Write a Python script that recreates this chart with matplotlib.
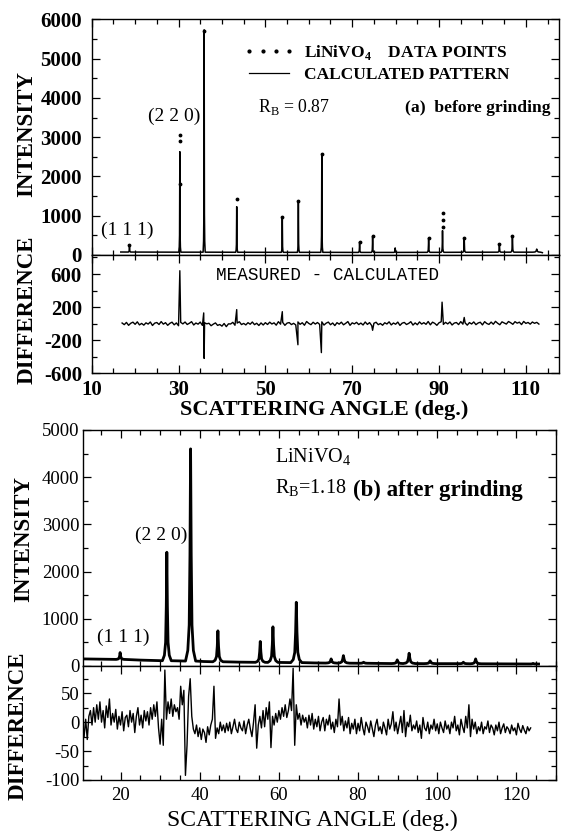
"""LiNiVO4 powder diffraction: Rietveld fits before and after grinding."""

import numpy as np
import matplotlib
matplotlib.use("Agg")
import matplotlib.pyplot as plt
from matplotlib.lines import Line2D
from matplotlib.ticker import MultipleLocator

plt.rcParams["font.family"] = ["Liberation Serif", "DejaVu Serif"]
plt.rcParams["mathtext.fontset"] = "custom"
plt.rcParams["mathtext.rm"] = "Liberation Serif"
plt.rcParams["mathtext.bf"] = "Liberation Serif:bold"
plt.rcParams["axes.unicode_minus"] = False

W, H = 562, 836

# ===================================================
# Data
# ===================================================
# line shape of one reflection: offset in half-widths, fraction of peak height
profile_offset = [-4, -2.2, -1.1, -0.5, 0, 0.5, 1.1, 2.2, 4]
profile_frac = [0, 0.05, 0.17, 0.5, 1, 0.5, 0.17, 0.05, 0]

# (a) before grinding - calculated pattern
peak_a_angle = [18.7, 30.3, 35.9, 43.4, 53.9, 57.6, 63.0, 71.7, 74.7, 79.9, 87.6, 90.8, 95.8, 103.9, 106.9, 112.5]
peak_a_top = [250, 2630, 5730, 1230, 940, 1360, 2570, 330, 470, 180, 430, 620, 430, 270, 470, 150]
peak_a_base = [75, 72, 72, 70, 68, 68, 68, 66, 66, 66, 68, 68, 70, 72, 72, 72]
peak_a_width = [0.07, 0.06, 0.06, 0.06, 0.06, 0.06, 0.06, 0.07, 0.07, 0.08, 0.08, 0.08, 0.08, 0.09, 0.09, 0.22]
bg_a_angle = [16.7, 25.0, 40.0, 50.0, 67.0, 83.0, 99.0, 110.0, 113.8]
bg_a_level = [76, 72, 70, 68, 66, 67, 70, 72, 60]

# (a) observed data points that stand out from the calculated line
data_a_angle = [18.7, 30.3, 30.3, 30.3, 35.9, 43.4, 53.9, 57.6, 63.0, 71.7, 74.7, 87.6, 90.8, 90.8, 90.8, 95.8, 103.9, 106.9]
data_a_int = [260, 3050, 2900, 1800, 5700, 1420, 975, 1380, 2580, 340, 480, 440, 1070, 880, 720, 440, 280, 480]

# (a) measured - calculated
diff_a_start, diff_a_step = 17.0, 0.5
diff_a_noise = [
    8, -12, 15, -20, 5, 18, -8, 22, -15, 3,
    -18, 10, -5, 20, -22, 6, 14, -10, 25, -6,
    12, -20, 4, 18, -14, 9, -25, 16, -3, 20,
    -10, 5, 24, -16, 8, -6, 19, -21, 11, -2,
    5, -25, -6, 9, -21, -10, -30, 2, -36, -2,
    -4, 16, -19, 7, 23, -11, 3, -15, 12, -7,
    20, -12, 5, -22, 9, -16, 12, -10, 18, -4,
    10, -18, 24, -6, 15, -20, 7, 13, -11, 4,
    -15, 21, -8, 11, -19, 26, 3, -12, 17, -5,
    14, -9, 22, -17, 6, 19, -13, 8, -23, 12,
    -6, 18, -14, 4, 25, -20, 10, -3, 16, -11,
    7, -16, 20, -9, 13, -24, 5, 17, -12, 2,
    -19, 11, -4, 22, -15, 8, -7, 19, -21, 6,
    15, -10, 3, 24, -17, 9, -13, 21, -5, 12,
    -8, 26, -14, 18, 4, -20, 11, 23, -9, 16,
    -3, 20, -16, 7, 14, -11, 25, -6, 10, -18,
    13, -4, 21, -12, 8, 17, -15, 24, 2, -9,
    19, -7, 28, 5, -13, 22, 9, -5, 26, 11,
    -8, 24, 6, 18, -11, 27, 3, 15, -6, 20,
    4, 16, -5,
]
diff_a_spike_angle = [30.3, 35.8, 35.9, 43.4, 53.9, 57.5, 62.9, 74.7, 90.7, 95.8]
diff_a_spike_val = [640, 130, -420, 170, 145, -255, -350, -80, 260, 75]

# (b) after grinding - calculated pattern
peak_b_angle = [19.9, 31.7, 37.7, 44.6, 55.3, 58.5, 64.4, 73.2, 76.3, 81.4, 89.9, 92.9, 98.2, 106.6, 109.7, 124.2]
peak_b_top = [285, 2410, 4600, 745, 520, 830, 1350, 150, 220, 80, 130, 270, 110, 80, 150, 55]
peak_b_base = [140, 112, 105, 90, 78, 76, 72, 62, 60, 57, 52, 52, 50, 48, 47, 42]
peak_b_width = [0.25, 0.28, 0.32, 0.32, 0.3, 0.32, 0.35, 0.35, 0.38, 0.4, 0.35, 0.38, 0.4, 0.35, 0.35, 0.3]
bg_b_angle = [10.6, 15.0, 25.0, 35.0, 41.0, 50.0, 61.0, 69.0, 85.0, 96.0, 102.0, 115.0, 121.0, 125.6]
bg_b_level = [150, 145, 125, 108, 95, 82, 75, 65, 55, 51, 49, 45, 44, 42]

# (b) measured - calculated
diff_b_start, diff_b_step = 10.8, 0.4
diff_b_noise = [
    -25, 5, -30, 10, 20, -5, 25, 0, 30, 5,
    35, 0, 20, -10, 28, 8, 40, -5, 15, 0,
    22, -12, 10, -5, 18, -15, 8, 12, -8, 20,
    0, 15, -18, 10, 25, -5, 12, -10, 20, 2,
    18, -5, 25, 5, 30, 10, 35, -10, -38, 5,
    -40, 90, 5, 35, 15, 40, 10, 30, 18, 25,
    5, 62, 30, 55, -92, -40, 45, 75, 10, -12,
    -20, -5, -25, -10, -30, -12, -18, -35, -8, -22,
    -5, 5, 62, -28, -10, -20, 0, -15, -5, -18,
    -2, -15, 0, -20, -8, 5, -12, -18, 0, -10,
    -15, 2, -20, -5, 5, -12, -25, 0, 30, -45,
    -5, 10, -10, 20, -8, 25, 5, 35, -44, 10,
    -5, 15, 0, 20, 5, 25, 10, 30, 8, 20,
    40, 20, 93, -40, 30, 5, 15, -5, 12, 0,
    8, -10, 12, -5, 15, -12, 5, -8, 10, -15,
    0, 8, -15, 5, -5, 12, -12, 0, -18, 5,
    -8, 40, -5, 10, -15, 2, -10, 8, -20, -2,
    -12, 5, -20, -2, -15, 8, -10, -22, 0, -8,
    -18, 2, -12, -25, -5, 5, -15, -8, -20, 0,
    -10, -22, 5, -12, -3, 18, -15, 0, -20, -5,
    10, -18, 20, -25, 0, -8, 12, -15, -5, -12,
    2, -18, -5, -28, 8, -10, -15, 0, -20, -5,
    -12, 5, -15, -3, -20, 0, -10, -18, 2, -12,
    -5, -20, 0, -10, 10, -15, -5, -22, 5, -8,
    -18, 10, -10, 30, -25, 5, -12, 0, -20, -8,
    -15, 0, -20, -8, -12, 2, -18, -5, -10, -22,
    -5, -15, 0, -20, -10, -3, -18, -8, -12, -20,
    -5, -15, -10, -22, -2, -12, -18, -6, -14, -20,
    -8, -15, -10,
]


def build_pattern(bg_angle, bg_level, pk_angle, pk_top, pk_base, pk_width):
    """Join background points and peak profiles into one sorted line."""
    xs, ys = list(bg_angle), list(bg_level)
    for p, top, base, w in zip(pk_angle, pk_top, pk_base, pk_width):
        for off, frac in zip(profile_offset, profile_frac):
            xs.append(p + off * w)
            ys.append(base + frac * (top - base))
    order = np.argsort(xs)
    return np.array(xs)[order], np.array(ys)[order]


def build_diff(start, step, noise, spike_angle=(), spike_val=()):
    xs = list(start + step * np.arange(len(noise))) + list(spike_angle)
    ys = list(noise) + list(spike_val)
    order = np.argsort(xs)
    return np.array(xs)[order], np.array(ys)[order]


def fpos(x, y):
    return x / W, 1 - y / H


def rect(x0, y0, x1, y1):
    return [x0 / W, 1 - y1 / H, (x1 - x0) / W, (y1 - y0) / H]


def set_ticks(ax, xmaj, xmin, ymaj, ymin, xlabels, size, weight, xpad, ypad):
    ax.set_xticks(xmaj, xlabels if xlabels else [""] * len(xmaj), fontsize=size, fontweight=weight)
    ax.set_yticks(ymaj, [str(v) for v in ymaj], fontsize=size, fontweight=weight)
    ax.xaxis.set_minor_locator(MultipleLocator(xmin))
    ax.yaxis.set_minor_locator(MultipleLocator(ymin))
    ax.tick_params(which="both", direction="in", top=True, right=True, width=0.9)
    ax.tick_params(which="major", length=6)
    ax.tick_params(which="minor", length=3.5)
    ax.tick_params(axis="x", pad=xpad)
    ax.tick_params(axis="y", pad=ypad)
    for s in ax.spines.values():
        s.set_linewidth(1.0)


fig = plt.figure(figsize=(W / 100, H / 100), dpi=100)

# ===================================================
# (a) before grinding
# ===================================================
ax_a = fig.add_axes(rect(91.7, 19.3, 559.3, 255))
ax_ad = fig.add_axes(rect(91.7, 255, 559.3, 373.3))

ax_x, ax_y = build_pattern(bg_a_angle, bg_a_level, peak_a_angle, peak_a_top, peak_a_base, peak_a_width)
ax_a.plot(ax_x, ax_y, color="black", lw=1.1)
ax_a.plot(data_a_angle, data_a_int, ls="none", marker=".", ms=3.5, color="black")
ax_a.set_xlim(10, 117.7)
ax_a.set_ylim(0, 6000)

d_x, d_y = build_diff(diff_a_start, diff_a_step, diff_a_noise, diff_a_spike_angle, diff_a_spike_val)
ax_ad.plot(d_x, d_y, color="black", lw=1.0)
ax_ad.set_xlim(10, 117.7)
ax_ad.set_ylim(-600, 830)

xt_a = [10, 30, 50, 70, 90, 110]
set_ticks(ax_a, xt_a, 5, [0, 1000, 2000, 3000, 4000, 5000, 6000], 500, None, 15, "bold", 5, 7)
set_ticks(ax_ad, xt_a, 5, [-600, -200, 200, 600], 200, [str(v) for v in xt_a], 15, "bold", 5, 7)

leg_handles = [
    Line2D([], [], ls="none", marker=".", ms=4, color="black"),
    Line2D([], [], color="black", lw=0.9),
]
fig.legend(leg_handles, ["LiNiVO$_\\mathregular{4}$    DATA POINTS", "CALCULATED PATTERN"],
           loc="upper left", bbox_to_anchor=fpos(244, 43), frameon=False, numpoints=4,
           handlelength=2.9, handletextpad=0.55, labelspacing=0.3, borderpad=0, borderaxespad=0,
           prop={"weight": "bold", "size": 12.5})

fig.text(*fpos(127.5, 230), "(1 1 1)", fontsize=14, ha="center", va="center")
fig.text(*fpos(174.5, 116), "(2 2 0)", fontsize=14, ha="center", va="center")
fig.text(*fpos(258, 107), "R$_\\mathregular{B}$ = 0.87", fontsize=12.8, ha="left", va="center")
fig.text(*fpos(405, 108), "(a)  before grinding", fontsize=12.6, fontweight="bold", ha="left", va="center")
fig.text(*fpos(216, 275), "MEASURED - CALCULATED", fontsize=12.7, family="Liberation Mono",
         ha="left", va="center")

fig.text(*fpos(27, 134), "INTENSITY", fontsize=16.5, fontweight="bold", rotation=90, ha="center", va="center")
fig.text(*fpos(27, 310), "DIFFERENCE", fontsize=16.5, fontweight="bold", rotation=90, ha="center", va="center")
fig.text(*fpos(324, 410), "SCATTERING ANGLE (deg.)", fontsize=16, fontweight="bold", ha="center", va="center")

# ===================================================
# (b) after grinding
# ===================================================
ax_b = fig.add_axes(rect(83.3, 430, 556, 666))
ax_bd = fig.add_axes(rect(83.3, 666, 556, 780))

bx, by = build_pattern(bg_b_angle, bg_b_level, peak_b_angle, peak_b_top, peak_b_base, peak_b_width)
ax_b.plot(bx, by, color="black", lw=2.0, solid_joinstyle="round")
ax_b.set_xlim(10.6, 130)
ax_b.set_ylim(0, 5000)

e_x, e_y = build_diff(diff_b_start, diff_b_step, diff_b_noise)
ax_bd.plot(e_x, e_y, color="black", lw=1.0)
ax_bd.set_xlim(10.6, 130)
ax_bd.set_ylim(-100, 97)

xt_b = [20, 40, 60, 80, 100, 120]
set_ticks(ax_b, xt_b, 5, [0, 1000, 2000, 3000, 4000, 5000], 500, None, 13.5, "normal", 5, 3)
set_ticks(ax_bd, xt_b, 5, [-100, -50, 0, 50], 25, [str(v) for v in xt_b], 13.5, "normal", 5, 3)

fig.text(*fpos(275, 457), "LiNiVO$_\\mathregular{4}$", fontsize=14.5, ha="left", va="center")
fig.text(*fpos(275, 488), "R$_\\mathregular{B}$=1.18", fontsize=14.5, ha="left", va="center")
fig.text(*fpos(353, 490), "(b) after grinding", fontsize=16.5, fontweight="bold", ha="left", va="center")
fig.text(*fpos(161.5, 535), "(2 2 0)", fontsize=14, ha="center", va="center")
fig.text(*fpos(123.3, 637), "(1 1 1)", fontsize=14, ha="center", va="center")

fig.text(*fpos(24, 539), "INTENSITY", fontsize=16.5, fontweight="bold", rotation=90, ha="center", va="center")
fig.text(*fpos(18, 726), "DIFFERENCE", fontsize=16.5, fontweight="bold", rotation=90, ha="center", va="center")
fig.text(*fpos(312, 820), "SCATTERING ANGLE (deg.)", fontsize=17, ha="center", va="center")

fig.savefig("out.png", dpi=100)
plt.close(fig)
